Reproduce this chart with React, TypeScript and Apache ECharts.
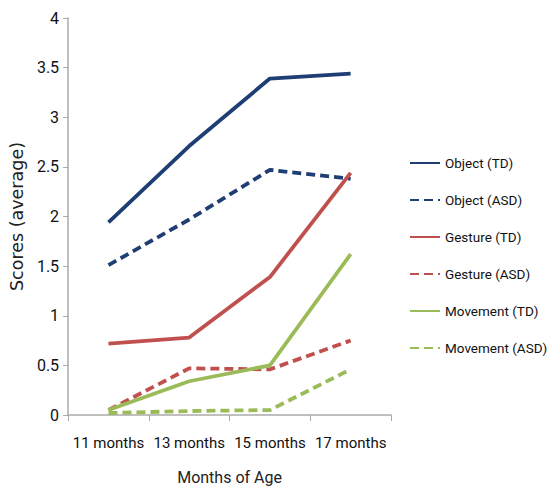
import React, { useEffect, useRef } from "react";
import * as echarts from "echarts";

const categories = ["11 months", "13 months", "15 months", "17 months"];
const objectTD = [1.94, 2.71, 3.39, 3.44];
const objectASD = [1.51, 1.97, 2.47, 2.38];
const gestureTD = [0.72, 0.78, 1.39, 2.44];
const gestureASD = [0.05, 0.47, 0.46, 0.75];
const movementTD = [0.05, 0.34, 0.5, 1.62];
const movementASD = [0.02, 0.04, 0.05, 0.46];
const yTicks = [0, 0.5, 1, 1.5, 2, 2.5, 3, 3.5, 4];

const NAVY = "#1F3E73";
const RED = "#C0504D";
const GREEN = "#9BBB59";
const FONT = "Roboto, 'Noto Sans', sans-serif";

export default function App() {
  const ref = useRef<HTMLDivElement>(null);
  useEffect(() => {
    if (!ref.current) return;
    const chart = echarts.init(ref.current, undefined, { renderer: "svg" });
    const mk = (name: string, data: number[], color: string, dashed: boolean) => ({
      name,
      type: "line",
      data,
      symbol: "none",
      color,
      lineStyle: { color, width: 3.8, type: dashed ? [9, 5] : "solid" },
      itemStyle: { color },
    });
    chart.setOption({
      animation: false,
      backgroundColor: "#ffffff",
      grid: { left: 66, right: 161, top: 18, bottom: 70 },
      legend: {
        orient: "vertical",
        left: 404,
        top: 151,
        itemWidth: 30,
        itemHeight: 14,
        itemGap: 23,
        itemStyle: { opacity: 0 },
        textStyle: { fontFamily: FONT, fontSize: 13.5, color: "#111" },
        data: [
          "Object (TD)",
          "Object (ASD)",
          "Gesture (TD)",
          "Gesture (ASD)",
          "Movement (TD)",
          "Movement (ASD)",
        ],
      },
      xAxis: {
        type: "category",
        data: categories,
        boundaryGap: true,
        name: "Months of Age",
        nameLocation: "middle",
        nameGap: 54,
        nameTextStyle: { fontFamily: FONT, fontSize: 16, color: "#222" },
        axisLine: { lineStyle: { color: "#aaaaaa", width: 1.5 } },
        axisTick: { show: true, alignWithLabel: false, length: 6, lineStyle: { color: "#aaaaaa" } },
        axisLabel: { interval: 0, fontFamily: FONT, fontSize: 15, color: "#111", margin: 20 },
        splitLine: { show: false },
      },
      yAxis: {
        type: "value",
        min: 0,
        max: 4,
        interval: 0.5,
        name: "Scores (average)",
        nameLocation: "middle",
        nameGap: 37,
        nameRotate: 90,
        nameTextStyle: { fontFamily: "'DejaVu Sans', sans-serif", fontSize: 17.5, color: "#222" },
        axisLine: { show: true, lineStyle: { color: "#aaaaaa", width: 1.5 } },
        axisTick: { show: true, length: 5, lineStyle: { color: "#aaaaaa" } },
        axisLabel: {
          fontFamily: FONT,
          fontSize: 16,
          color: "#111",
          margin: 9,
          formatter: (v: number) => (yTicks.includes(v) ? String(v) : ""),
        },
        splitLine: { show: false },
      },
      series: [
        mk("Object (TD)", objectTD, NAVY, false),
        mk("Object (ASD)", objectASD, NAVY, true),
        mk("Gesture (TD)", gestureTD, RED, false),
        mk("Gesture (ASD)", gestureASD, RED, true),
        mk("Movement (TD)", movementTD, GREEN, false),
        mk("Movement (ASD)", movementASD, GREEN, true),
      ],
    });
    return () => chart.dispose();
  }, []);
  return <div ref={ref} style={{ width: 552, height: 490, position: "absolute", left: 0, top: 0 }} />;
}
